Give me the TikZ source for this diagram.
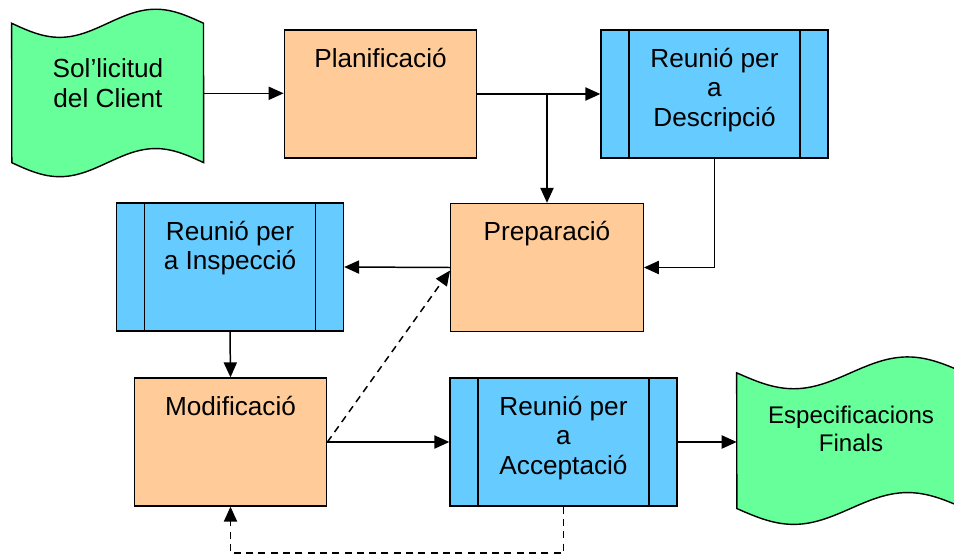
\documentclass[tikz,border=0pt]{standalone}
\usepackage{fontspec}
\setmainfont{Liberation Sans}
\definecolor{taskorange}{HTML}{FFCC99}
\definecolor{meetblue}{HTML}{66CCFF}
\definecolor{docgreen}{HTML}{66FF99}
\usetikzlibrary{arrows.meta, backgrounds, calc}
% lines hanging from the first baseline
\newcommand{\toplines}[1]{\begin{tabular}[t]{@{}c@{}}#1\end{tabular}}
\tikzset{
	tasknode/.style={
			rectangle,
			draw=black,
			line width=0.8pt,
			fill=taskorange,
			minimum width=3.85cm,
			minimum height=2.56cm,
			inner sep=0pt,
			text height=0.74cm,
			text depth=1.82cm
		},
	meetnode/.style={
			tasknode,
			fill=meetblue,
			minimum width=4.54cm,
			path picture={
					\draw[line width=0.8pt]
					([xshift=0.56cm]path picture bounding box.north west) --
					([xshift=0.56cm]path picture bounding box.south west)
					([xshift=-0.56cm]path picture bounding box.north east) --
					([xshift=-0.56cm]path picture bounding box.south east);
				}
		},
	docnode/.style={
			rectangle,
			draw=none,
			inner sep=0pt,
			minimum width=#1,
			minimum height=3.35cm,
			text height=1.36cm,
			text depth=1.99cm
		},
	flowarrow/.style={
			line width=0.85pt,
			-{Triangle[length=8.5pt,width=7.5pt]}
		},
	backarrow/.style={
			flowarrow,
			dash pattern=on 4pt off 3pt
		},
	pics/tape/.style={
			code={
					\fill[docgreen, draw=black, line width=0.8pt]
					plot[domain=0:1, samples=60] (\x, {#1 + #1*sin(360*\x)})
					-- plot[domain=1:0, samples=60] (\x, {1 - #1 + #1*sin(360*\x)})
					-- cycle;
				}
		}
}

\begin{document}
\begin{tikzpicture}[x=0.02cm, y=-0.02cm, font=\fontsize{14.9}{17}\selectfont]
\useasboundingbox (0,0) rectangle (954,555);

\node[docnode=3.84cm] (req) at (108,93.3) {\toplines{Sol’licitud\\del Client}};
\node[tasknode] (plan) at (380.5,94) {Planificació};
\node[meetnode] (desc) at (714.5,94) {\toplines{Reunió per\\a\\Descripció}};
\node[tasknode] (prep) at (547,267.5) {Preparació};
\node[meetnode] (insp) at (230,267) {\toplines{Reunió per\\a Inspecció}};
\node[tasknode] (modif) at (230.5,442) {Modificació};
\node[meetnode] (accept) at (563.5,442) {\toplines{Reunió per\\a\\Acceptació}};
\node[docnode=4.56cm, text height=1.3cm, font=\fontsize{13.7}{16}\selectfont]
	(espec) at (851,441) {\toplines{Especificacions\\Finals}};

% wavy documents behind the text
\begin{scope}[on background layer]
	\pic[shift={(req.north west)}, x=3.84cm, y=-3.35cm] {tape=0.084};
	\pic[shift={(espec.north west)}, x=4.56cm, y=-3.35cm] {tape=0.095};
\end{scope}

\draw[flowarrow] (req.east) -- (req.east -| plan.west);
\draw[flowarrow] (plan.east) -- (desc.west);
\draw[flowarrow] (plan.east -| prep.north) -- (prep.north);
\draw[flowarrow] (desc.south) |- (prep.east);

\draw[flowarrow] (prep.west) -- (insp.east);
\draw[flowarrow] (insp.south) -- (modif.north);

\draw[flowarrow] (modif.east) -- (accept.west);
\draw[flowarrow] (accept.east) -- (accept.east -| espec.west);

\draw[backarrow] (modif.east) -- ([yshift=-0.06cm]prep.west);
\coordinate (loopbase) at (563.5,553);
\draw[backarrow] (accept.south) -- (loopbase) -| (modif.south);

\end{tikzpicture}
\end{document}
